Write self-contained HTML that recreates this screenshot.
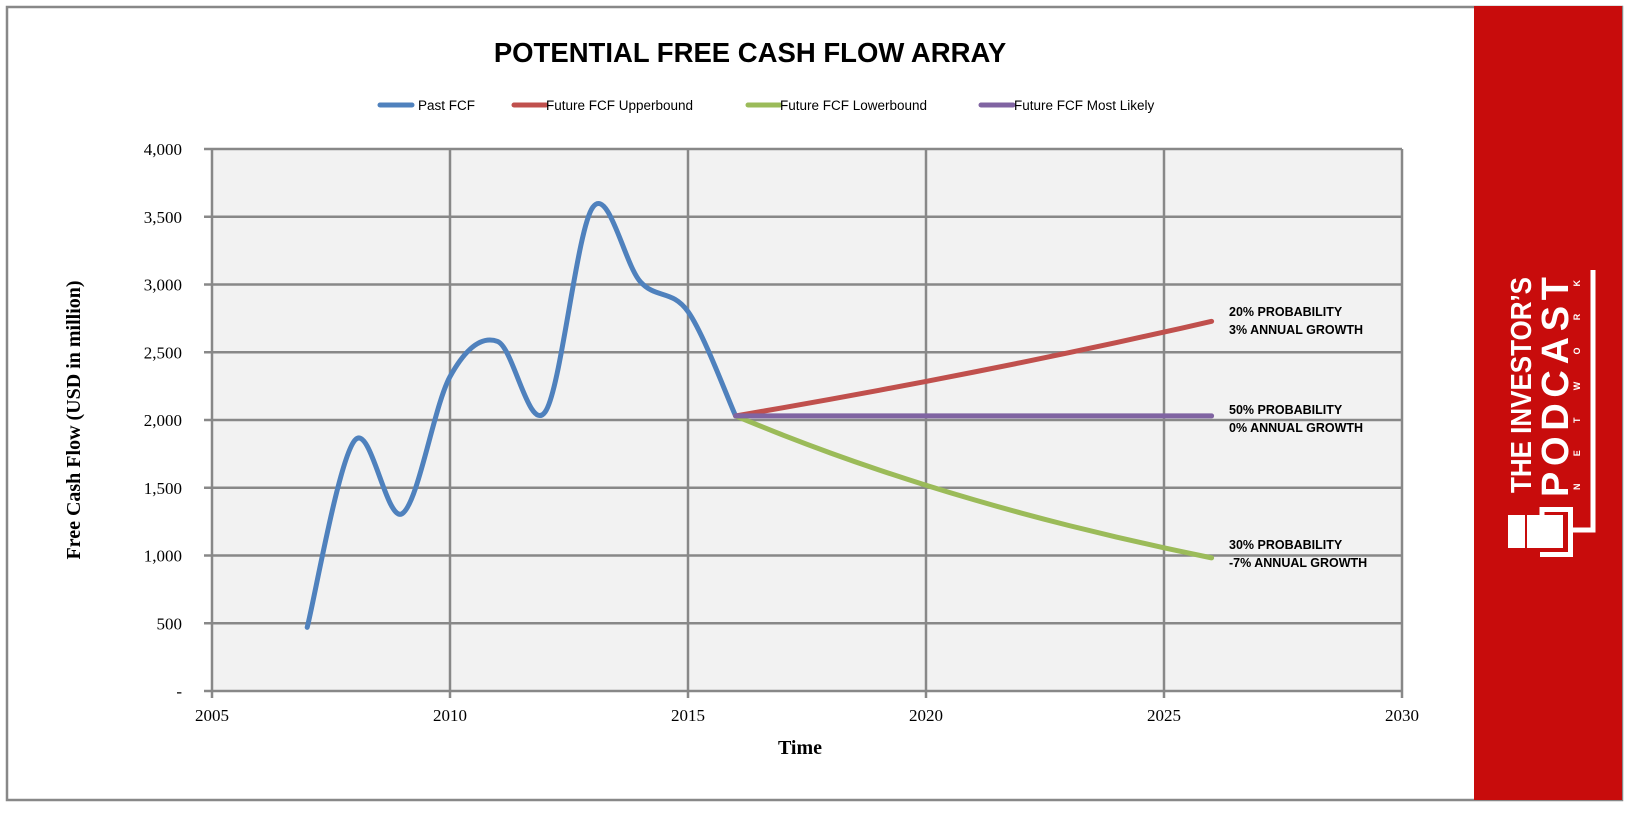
<!DOCTYPE html>
<html><head><meta charset="utf-8"><style>
body{margin:0;background:#fff;width:1630px;height:810px;overflow:hidden}
</style></head><body>
<svg id="s" width="1630" height="810" xmlns="http://www.w3.org/2000/svg" font-family="Liberation Serif, serif">
<rect x="7" y="7" width="1615" height="793" fill="#fff" stroke="#888" stroke-width="2.5"/>
<rect x="1474" y="6" width="148" height="794" fill="#c80c0c"/>
<rect x="212" y="149" width="1190" height="542" fill="#f2f2f2"/>
<g id="grid" stroke="#888" stroke-width="2.5"></g>
<text x="750" y="62" text-anchor="middle" font-family="Liberation Sans, sans-serif" font-weight="bold" font-size="27.5">POTENTIAL FREE CASH FLOW ARRAY</text>
<g font-family="Liberation Sans, sans-serif" font-size="13.5">
<line x1="380" y1="105" x2="412" y2="105" stroke="#4f81bd" stroke-width="5" stroke-linecap="round"/><text x="418" y="110">Past FCF</text>
<line x1="514" y1="105" x2="546" y2="105" stroke="#c0504d" stroke-width="5" stroke-linecap="round"/><text x="546" y="110">Future FCF Upperbound</text>
<line x1="748" y1="105" x2="780" y2="105" stroke="#9bbb59" stroke-width="5" stroke-linecap="round"/><text x="780" y="110">Future FCF Lowerbound</text>
<line x1="981" y1="105" x2="1013" y2="105" stroke="#8064a2" stroke-width="5" stroke-linecap="round"/><text x="1014" y="110">Future FCF Most Likely</text>
</g>
<g id="ticks" font-size="17"></g>
<text x="800" y="754" text-anchor="middle" font-weight="bold" font-size="20">Time</text>
<text transform="translate(80,420) rotate(-90)" text-anchor="middle" font-weight="bold" font-size="20">Free Cash Flow (USD in million)</text>
<g id="lines" fill="none" stroke-width="5" stroke-linecap="round"></g>
<g font-family="Liberation Sans, sans-serif" font-weight="bold" font-size="12.5">
<text x="1229" y="316">20% PROBABILITY</text><text x="1229" y="334">3% ANNUAL GROWTH</text>
<text x="1229" y="414">50% PROBABILITY</text><text x="1229" y="432">0% ANNUAL GROWTH</text>
<text x="1229" y="549">30% PROBABILITY</text><text x="1229" y="567">-7% ANNUAL GROWTH</text>
</g>
<g fill="#fff" font-family="Liberation Sans, sans-serif" font-weight="bold">
<text transform="translate(1531,493) rotate(-90)" font-size="29" textLength="216" lengthAdjust="spacingAndGlyphs">THE INVESTOR’S</text>
<text transform="translate(1568,497) rotate(-90)" font-size="38" textLength="220" lengthAdjust="spacing">PODCAST</text>
<text transform="translate(1580,490) rotate(-90)" font-size="9" textLength="210" lengthAdjust="spacing">NETWORK</text>
<rect x="1508" y="515" width="17" height="33"/>
<rect x="1527" y="515" width="36" height="33"/>
<path d="M1593 270 V530 H1570 M1542 520 V509.5 H1570.5 V554.5 H1540" fill="none" stroke="#fff" stroke-width="5"/>
</g>
</svg>
<script>
var X=y=>212+(y-2005)*47.6, Y=v=>691-v*542/4000;
var ns="http://www.w3.org/2000/svg",g=document.getElementById('grid'),t=document.getElementById('ticks');
function el(p,tag,a,txt){var e=document.createElementNS(ns,tag);for(var k in a)e.setAttribute(k,a[k]);if(txt)e.textContent=txt;p.appendChild(e);return e}
for(var v=0;v<=4000;v+=500){el(g,'line',{x1:204,x2:1402,y1:Y(v),y2:Y(v)});el(t,'text',{x:182,y:Y(v)+6,'text-anchor':'end'},v?v.toLocaleString('en-US'):'-')}
for(var yr=2005;yr<=2030;yr+=5){el(g,'line',{x1:X(yr),x2:X(yr),y1:149,y2:698});el(t,'text',{x:X(yr),y:721,'text-anchor':'middle'},''+yr)}
function smooth(pts){var d='M'+pts[0].join(' ');for(var i=0;i<pts.length-1;i++){var p0=pts[i-1]||pts[i],p1=pts[i],p2=pts[i+1],p3=pts[i+2]||p2;
d+=' C'+(p1[0]+(p2[0]-p0[0])/6)+' '+(p1[1]+(p2[1]-p0[1])/6)+' '+(p2[0]-(p3[0]-p1[0])/6)+' '+(p2[1]-(p3[1]-p1[1])/6)+' '+p2[0]+' '+p2[1]}return d}
var past=[[2007,470],[2008,1850],[2009,1310],[2010,2320],[2011,2580],[2012,2060],[2013,3570],[2014,3020],[2015,2800],[2016,2030]].map(p=>[X(p[0]),Y(p[1])]);
var L=document.getElementById('lines');
el(L,'path',{d:smooth(past),stroke:'#4f81bd'});
var up=[],lo=[];for(var n=0;n<=10;n++){up.push([X(2016+n),Y(2030*Math.pow(1.03,n))]);lo.push([X(2016+n),Y(2030*Math.pow(0.93,n))])}
el(L,'path',{d:smooth(up),stroke:'#c0504d'});
el(L,'path',{d:smooth(lo),stroke:'#9bbb59'});
el(L,'path',{d:'M'+X(2016)+' '+Y(2030)+' H'+X(2026),stroke:'#8064a2'});
</script>
</body></html>
